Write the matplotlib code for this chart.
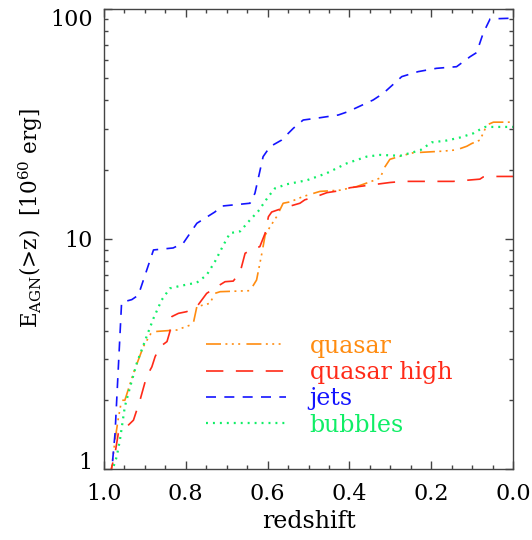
import matplotlib
matplotlib.use('Agg')
import matplotlib.pyplot as plt
from matplotlib.ticker import MultipleLocator, FixedLocator, NullFormatter

plt.rcParams['font.family'] = ['DejaVu Serif']
plt.rcParams['mathtext.fontset'] = 'dejavuserif'
plt.rcParams['lines.scale_dashes'] = False

#cumulative AGN energy (redshift, 1e60 erg)
z_quasar = [0.986, 0.981, 0.973, 0.965, 0.957, 0.949, 0.928, 0.904, 0.883, 0.822, 0.782,
            0.773, 0.741, 0.729, 0.716, 0.643, 0.627, 0.614, 0.606, 0.594, 0.578, 0.562,
            0.545, 0.513, 0.472, 0.423, 0.382, 0.350, 0.325, 0.313, 0.301, 0.276, 0.244,
            0.170, 0.138, 0.113, 0.101, 0.081, 0.073, 0.064, 0.048, 0.0]
e_quasar = [0.9, 1.02, 1.34, 1.66, 1.99, 1.99, 2.61, 3.40, 3.95, 4.02, 4.27,
            5.08, 5.25, 5.80, 5.90, 5.96, 6.63, 8.67, 10.4, 11.3, 12.5, 14.3,
            14.5, 15.3, 16.1, 16.3, 16.9, 17.7, 18.4, 20.6, 22.2, 22.9, 23.7,
            24.1, 24.4, 25.3, 26.0, 26.9, 28.8, 31.3, 32.2, 32.2]

z_qhigh = [0.986, 0.981, 0.973, 0.965, 0.957, 0.944, 0.928, 0.912, 0.896, 0.883, 0.875,
           0.863, 0.846, 0.839, 0.834, 0.818, 0.798, 0.773, 0.749, 0.724, 0.704, 0.684,
           0.667, 0.655, 0.631, 0.619, 0.606, 0.598, 0.590, 0.574, 0.545, 0.521, 0.509,
           0.476, 0.455, 0.415, 0.399, 0.366, 0.301, 0.268, 0.146, 0.081, 0.073, 0.048, 0.0]
e_qhigh = [0.9, 1.02, 1.17, 1.43, 1.48, 1.53, 1.63, 1.99, 2.52, 2.78, 3.08,
           3.40, 3.58, 3.95, 4.60, 4.75, 4.83, 5.08, 5.80, 6.20, 6.52, 6.56,
           7.19, 8.67, 9.11, 9.26, 10.6, 12.5, 13.1, 13.4, 13.9, 14.3, 14.8,
           15.4, 15.9, 16.3, 16.7, 17.0, 17.6, 17.8, 17.8, 18.2, 18.6, 18.7, 18.7]

z_jets = [0.983, 0.973, 0.957, 0.932, 0.916, 0.879, 0.831, 0.806, 0.773, 0.729, 0.712,
          0.643, 0.631, 0.611, 0.594, 0.566, 0.537, 0.513, 0.480, 0.427, 0.403, 0.342,
          0.317, 0.272, 0.232, 0.187, 0.138, 0.105, 0.089, 0.073, 0.056, 0.0]
e_jets = [0.9, 1.43, 5.3, 5.45, 5.7, 8.96, 9.14, 9.6, 11.7, 13.1, 13.9,
          14.3, 15.8, 22.8, 25.2, 26.9, 30.3, 32.9, 33.5, 34.6, 35.8, 40.2,
          43.0, 50.8, 53.4, 55.2, 56.1, 62.0, 64.6, 78.4, 90.5, 91.2]

z_bubbles = [0.983, 0.977, 0.969, 0.961, 0.949, 0.936, 0.920, 0.908, 0.896, 0.879, 0.859,
             0.839, 0.814, 0.773, 0.749, 0.729, 0.708, 0.692, 0.667, 0.643, 0.623, 0.598,
             0.582, 0.553, 0.504, 0.456, 0.407, 0.358, 0.325, 0.276, 0.227, 0.199, 0.162,
             0.130, 0.097, 0.081, 0.068, 0.0]
e_bubbles = [0.9, 1.02, 1.13, 1.34, 1.87, 2.28, 2.88, 3.29, 3.76, 4.52, 5.43,
             6.10, 6.25, 6.46, 6.97, 7.96, 9.41, 10.6, 10.8, 12.1, 13.2, 15.3,
             16.6, 17.3, 18.0, 19.3, 21.3, 22.8, 23.2, 23.0, 24.3, 26.3, 26.8,
             27.6, 28.8, 29.9, 30.7, 30.7]

labels = ['quasar', 'quasar high', 'jets', 'bubbles']
ytick_vals = [1, 10, 100]
ytick_labels = ['1', '10', '100']
xtick_vals = [1.0, 0.8, 0.6, 0.4, 0.2, 0.0]
xtick_labels = ['1.0', '0.8', '0.6', '0.4', '0.2', '0.0']

fig = plt.figure(figsize=(5.32, 5.40), dpi=100)
ax = fig.add_axes([0.1955, 0.1315, 0.7688, 0.8519])

#IDL style line patterns
ax.plot(z_quasar, e_quasar, color='#ff8c10', lw=1.2,
        dashes=[10.8, 3.2, 1.4, 3.2, 1.4, 3.2, 1.4, 4.5], label=labels[0])
ax.plot(z_qhigh, e_qhigh, color='#ff2a18', lw=1.2, dashes=[12.5, 9.0], label=labels[1])
ax.plot(z_jets, e_jets, color='#1414ff', lw=1.2, dashes=[7.2, 6.0], label=labels[2])
ax.plot(z_bubbles, e_bubbles, color='#10ee66', lw=1.6, dashes=[1.4, 3.6], label=labels[3])

ax.set_yscale('log')
ax.set_xlim(1.0, 0.0)
ax.set_ylim(1, 100)

ax.xaxis.set_major_locator(FixedLocator(xtick_vals))
ax.set_xticklabels(xtick_labels)
ax.xaxis.set_minor_locator(MultipleLocator(0.05))
ax.yaxis.set_major_locator(FixedLocator(ytick_vals))
ax.set_yticklabels(ytick_labels)
ax.yaxis.set_minor_formatter(NullFormatter())

ax.tick_params(which='both', direction='in', top=True, right=True, color='#444444', width=1.0)
ax.tick_params(which='major', length=5.8)
ax.tick_params(which='minor', length=3.2)
ax.tick_params(axis='x', labelsize=16, pad=10)
ax.tick_params(axis='y', labelsize=16, pad=8)
yl = ax.get_yticklabels()
yl[0].set_va('baseline')
yl[-1].set_va('top')

for s in ax.spines.values():
    s.set_color('#444444')
    s.set_linewidth(1.0)

ax.set_xlabel('redshift', fontsize=17, labelpad=4)
ax.set_ylabel(r'E$_{\mathrm{AGN}}$(>z)  [10$^{\mathrm{60}}$ erg]', fontsize=15.5)
ax.yaxis.set_label_coords(-0.145, 0.545)

leg = ax.legend(loc='upper left', bbox_to_anchor=(0.249, 0.292), frameon=False,
                fontsize=17, handlelength=3.4, handletextpad=1.0, labelspacing=0.14,
                borderpad=0, borderaxespad=0, labelcolor='linecolor')

fig.savefig('out.png', dpi=100)
